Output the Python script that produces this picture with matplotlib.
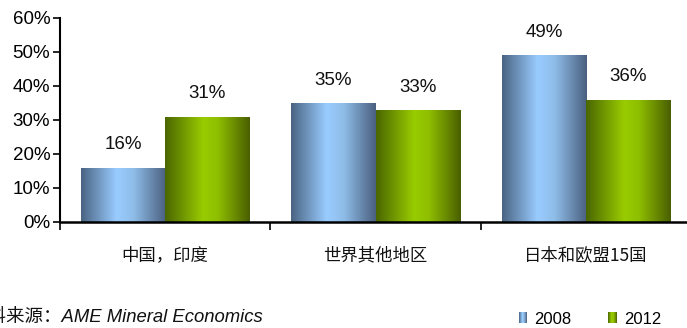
import numpy as np
import matplotlib
matplotlib.use("Agg")
import matplotlib.pyplot as plt
from matplotlib.colors import LinearSegmentedColormap
from matplotlib.patches import Rectangle
from matplotlib.legend_handler import HandlerBase

categories = ["中国，印度", "世界其他地区", "日本和欧盟15国"]
series_names = ["2008", "2012"]
values_2008 = [16, 35, 49]
values_2012 = [31, 33, 36]
y_ticks = [0, 10, 20, 30, 40, 50, 60]

plt.rcParams["font.family"] = ["Liberation Sans", "Noto Sans CJK SC", "DejaVu Sans"]

blue_cmap = LinearSegmentedColormap.from_list(
    "blue_shade", [(0.0, "#4a6482"), (0.42, "#99ccff"), (0.62, "#8fbde8"), (1.0, "#4a6080")])
green_cmap = LinearSegmentedColormap.from_list(
    "green_shade", [(0.0, "#4a6600"), (0.45, "#99cc00"), (0.62, "#8fbf00"), (1.0, "#4a5e00")])
cmaps = [blue_cmap, green_cmap]

fig = plt.figure(figsize=(6.87, 3.28), dpi=100)
ax = fig.add_axes([60 / 687, 106 / 328, 627 / 687, 204 / 328])

x = np.arange(len(categories))
width = 0.4
grad = np.linspace(0, 1, 256).reshape(1, -1)

for i, (vals, cmap) in enumerate(zip([values_2008, values_2012], cmaps)):
    offs = x + (i - 0.5) * width
    bars = ax.bar(offs, vals, width=width, color="none", edgecolor="none", zorder=2)
    for b, v in zip(bars, vals):
        x0 = b.get_x()
        im = ax.imshow(grad, cmap=cmap, aspect="auto",
                       extent=(x0, x0 + width, 0, v), zorder=2, interpolation="bilinear")
        im.set_clip_path(b)
        ax.text(x0 + width / 2, v + 6.7, f"{v}%", ha="center", va="center",
                fontsize=13.5, color="#111111")

ax.set_xlim(-0.5, 2.48)
ax.set_ylim(0, 60)
ax.set_yticks(y_ticks)
ax.set_yticklabels([f"{t}%" for t in y_ticks], fontsize=13.5)
ax.tick_params(axis="y", length=5, width=1.2, direction="out", pad=2)

ax.set_xticks([-0.5, 0.5, 1.5])
ax.set_xticklabels([])
ax.tick_params(axis="x", length=6, width=1.2, direction="out")
for xi, c in zip(x, categories):
    ax.text(xi, -9.7, c, ha="center", va="center", fontsize=12.5,
            family=["Noto Sans CJK SC", "DejaVu Sans"], color="#111111")

for s in ["top", "right"]:
    ax.spines[s].set_visible(False)
ax.spines["left"].set_linewidth(1.5)
ax.spines["bottom"].set_linewidth(1.8)
ax.spines["bottom"].set_zorder(3)

fig.text(-31 / 687, 0.03, "资料来源：AME Mineral Economics", fontsize=13.3,
         style="italic", family=["Liberation Sans", "Noto Sans CJK SC"],
         ha="left", va="center", color="#111111")


class GradientHandler(HandlerBase):
    def __init__(self, cmap):
        super().__init__()
        self.cmap = cmap

    def create_artists(self, legend, orig_handle, xdescent, ydescent,
                       width, height, fontsize, trans):
        n = 8
        w = width / n
        arts = []
        for k in range(n):
            r = Rectangle((-xdescent + k * w, -ydescent), w * 1.05, height,
                          facecolor=self.cmap((k + 0.5) / n), edgecolor="none",
                          transform=trans)
            arts.append(r)
        return arts


h1 = Rectangle((0, 0), 1, 1)
h2 = Rectangle((0, 0), 1, 1)
fig.legend([h1, h2], series_names, loc="center left",
           bbox_to_anchor=(507 / 687, 0.027), ncol=2, frameon=False,
           fontsize=12, handlelength=0.5, handleheight=0.65, handletextpad=0.45,
           columnspacing=2.2, borderpad=0.2,
           handler_map={h1: GradientHandler(blue_cmap), h2: GradientHandler(green_cmap)})

fig.savefig("out.png", dpi=100)
